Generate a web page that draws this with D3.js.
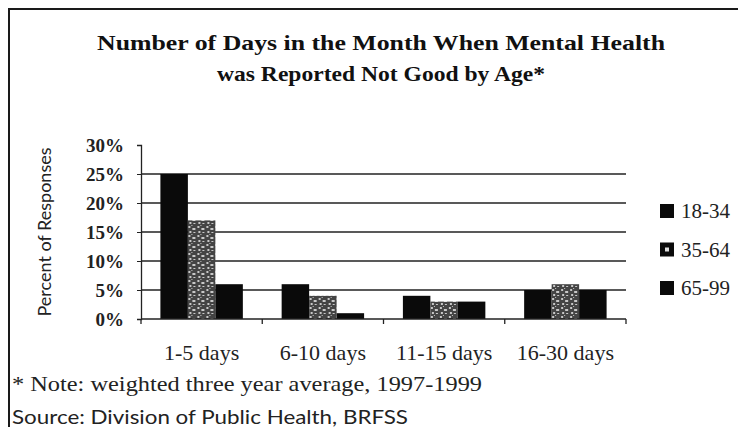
<!DOCTYPE html>
<html>
<head>
<meta charset="utf-8">
<script src="https://cdn.jsdelivr.net/npm/d3@7"></script>
<style>
  body { margin: 0; background: #fff; }
  svg { display: block; }
</style>
</head>
<body>
<div id="chart"></div>
<script>
// chart data
var categories = ["1-5 days", "6-10 days", "11-15 days", "16-30 days"];
var ageGroups = ["18-34", "35-64", "65-99"];
var age18to34 = [25, 6, 4, 5];
var age35to64 = [17, 4, 3, 6];
var age65to99 = [6, 1, 3, 5];
var yTicks = [0, 5, 10, 15, 20, 25, 30];
var titleLines = ["Number of Days in the Month When  Mental Health", "was Reported Not Good by Age*"];

function drawChart() {
    var seriesValues = [age18to34, age35to64, age65to99];

    var svg = d3.select("#chart").append("svg")
        .attr("width", 738)
        .attr("height", 427);

    var serif = "'Liberation Serif', 'DejaVu Serif', serif";
    var sans = "Lato, 'Open Sans', sans-serif";

    // speckled fill for the middle series
    var defs = svg.append("defs");
    var pat = defs.append("pattern")
        .attr("id", "speckle")
        .attr("patternUnits", "userSpaceOnUse")
        .attr("width", 9).attr("height", 9);
    pat.append("rect").attr("width", 9).attr("height", 9).attr("fill", "#444");
    [[1, 1, 2, 2], [5, 3, 3, 2], [2, 6, 2, 2], [6, 7, 2, 1], [4, 0, 1, 1]].forEach(function(r) {
        pat.append("rect").attr("x", r[0]).attr("y", r[1]).attr("width", r[2]).attr("height", r[3])
            .attr("fill", "#c8c8c8");
    });
    var colors = ["#0a0a0a", "url(#speckle)", "#0a0a0a"];

    // frame (left and top edges)
    svg.append("rect")
        .attr("x", 9).attr("y", 9)
        .attr("width", 760).attr("height", 460)
        .attr("fill", "none")
        .attr("stroke", "#1a1a1a").attr("stroke-width", 2);

    // title
    var titleWidths = [568, 328];
    svg.selectAll(".title")
        .data(titleLines)
      .enter().append("text")
        .attr("class", "title")
        .attr("x", 381)
        .attr("y", function(d, i) { return 50 + i * 31; })
        .attr("text-anchor", "middle")
        .attr("textLength", function(d, i) { return titleWidths[i]; })
        .attr("lengthAdjust", "spacingAndGlyphs")
        .style("font", "bold 21px " + serif)
        .style("fill", "#111")
        .text(function(d) { return d; });

    // scales
    var plotLeft = 141, plotRight = 626, plotTop = 145, plotBottom = 319;

    var y = d3.scaleLinear().domain([0, 30]).range([plotBottom, plotTop]);

    var xAxisScale = d3.scaleBand().domain(categories).range([plotLeft, plotRight]);

    var x = d3.scaleBand().domain(categories).range([plotLeft, plotRight])
        .paddingInner(0.32).paddingOuter(0.16);

    var xs = d3.scaleBand().domain(ageGroups).range([0, x.bandwidth()]);

    // gridlines
    svg.append("g").selectAll("line")
        .data(yTicks.filter(function(t) { return t > 0 && t < 30; }))
      .enter().append("line")
        .attr("x1", plotLeft).attr("x2", plotRight)
        .attr("y1", function(d) { return y(d); })
        .attr("y2", function(d) { return y(d); })
        .attr("stroke", "#222").attr("stroke-width", 1.3);

    // bars
    var groups = svg.append("g").selectAll("g")
        .data(categories)
      .enter().append("g")
        .attr("transform", function(d) { return "translate(" + x(d) + ",0)"; });

    groups.selectAll("rect")
        .data(function(c, ci) {
            return ageGroups.map(function(a, ai) { return {age: a, i: ai, value: seriesValues[ai][ci]}; });
        })
      .enter().append("rect")
        .attr("x", function(d) { return xs(d.age); })
        .attr("width", xs.bandwidth())
        .attr("y", function(d) { return y(d.value); })
        .attr("height", function(d) { return plotBottom - y(d.value); })
        .attr("fill", function(d) { return colors[d.i]; });

    // y axis
    var yAxis = svg.append("g")
        .attr("transform", "translate(" + plotLeft + ",0)")
        .call(d3.axisLeft(y).tickValues(yTicks).tickSize(4).tickPadding(13)
            .tickFormat(function(d) { return d + "%"; }));
    yAxis.select(".domain").attr("stroke", "#222").attr("stroke-width", 1.3);
    yAxis.selectAll(".tick line").attr("stroke", "#222");
    yAxis.selectAll(".tick text")
        .style("font", "bold 19px " + serif)
        .style("fill", "#222");

    // x axis line and boundary ticks
    var xg = svg.append("g");
    xg.append("line").attr("x1", plotLeft).attr("x2", plotRight)
        .attr("y1", plotBottom).attr("y2", plotBottom)
        .attr("stroke", "#222").attr("stroke-width", 1.4);
    xg.selectAll(".xtick")
        .data(categories.map(function(c) { return xAxisScale(c); }).concat([plotRight]))
      .enter().append("line")
        .attr("class", "xtick")
        .attr("x1", function(d) { return d; }).attr("x2", function(d) { return d; })
        .attr("y1", plotBottom).attr("y2", plotBottom + 5)
        .attr("stroke", "#222").attr("stroke-width", 1.3);
    xg.selectAll(".xlabel")
        .data(categories)
      .enter().append("text")
        .attr("class", "xlabel")
        .attr("x", function(d) { return xAxisScale(d) + xAxisScale.bandwidth() / 2; })
        .attr("y", 360)
        .attr("text-anchor", "middle")
        .style("font", "22px " + serif)
        .style("fill", "#222")
        .text(function(d) { return d; });

    // y label
    svg.append("text")
        .attr("transform", "translate(51,232) rotate(-90)")
        .attr("text-anchor", "middle")
        .style("font", "18px " + sans)
        .style("fill", "#222")
        .text("Percent of Responses");

    // legend
    var legend = svg.append("g").selectAll("g")
        .data(ageGroups)
      .enter().append("g")
        .attr("transform", function(d, i) { return "translate(660," + (211 + i * 38.5) + ")"; });
    legend.append("rect")
        .attr("x", 0).attr("y", -7).attr("width", 14).attr("height", 14)
        .attr("fill", "#0a0a0a");
    legend.filter(function(d, i) { return i === 1; }).append("rect")
        .attr("x", 5).attr("y", -2).attr("width", 4).attr("height", 4)
        .attr("fill", "#ddd");
    legend.append("text")
        .attr("x", 21).attr("y", 7)
        .style("font", "21px " + serif)
        .style("fill", "#222")
        .text(function(d) { return d; });

    // notes
    svg.append("text")
        .attr("x", 12).attr("y", 391)
        .attr("textLength", 470)
        .attr("lengthAdjust", "spacingAndGlyphs")
        .style("font", "21px " + serif)
        .style("fill", "#222")
        .text("* Note: weighted three year average, 1997-1999");
    svg.append("text")
        .attr("x", 12).attr("y", 424)
        .attr("textLength", 396)
        .attr("lengthAdjust", "spacingAndGlyphs")
        .style("font", "20px " + sans)
        .style("fill", "#222")
        .text("Source: Division of Public Health, BRFSS");
}

drawChart();
</script>
</body>
</html>
